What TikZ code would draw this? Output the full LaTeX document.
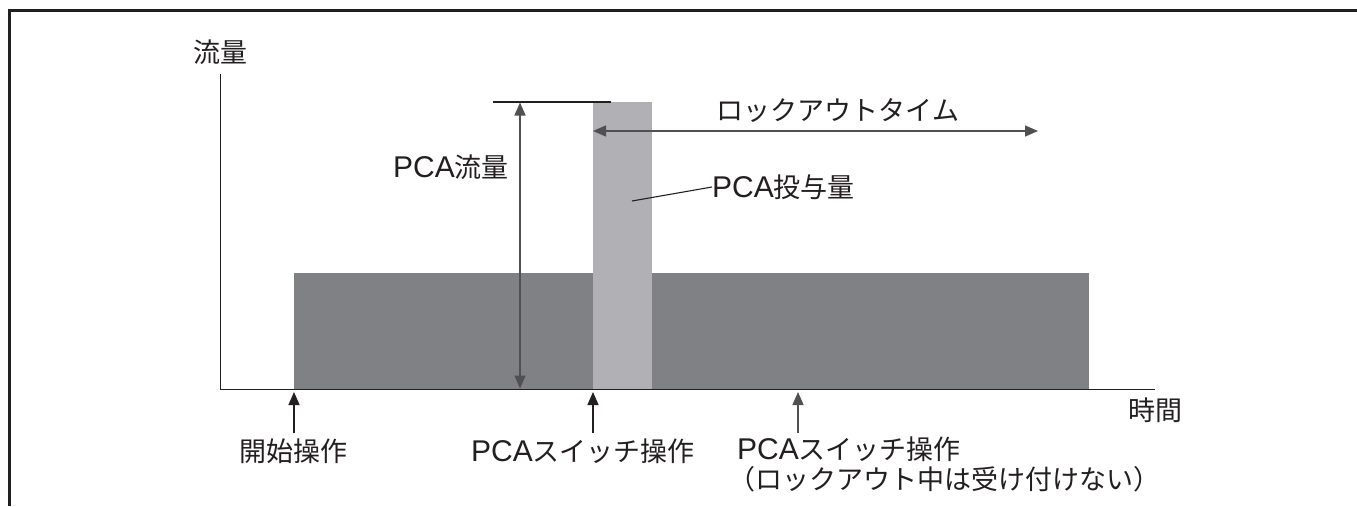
\documentclass[tikz,border=0pt]{standalone}
\usepackage{fontspec}
\setmainfont{Liberation Sans}
\newfontfamily\jpfont{Noto Sans CJK JP}
\usetikzlibrary{arrows.meta}
\definecolor{darkbar}{RGB}{128,129,133}
\definecolor{lightbar}{RGB}{177,177,181}
\definecolor{ink}{RGB}{35,31,32}
\definecolor{lineg}{RGB}{80,80,82}
\newcommand\J[1]{{\jpfont\fontsize{27}{31}\selectfont #1}}
\begin{document}
\begin{tikzpicture}[x=1pt,y=-1pt,
  every node/.style={font=\fontsize{30}{31}\selectfont, inner sep=0pt, text=ink},
  tipend/.style={-{Triangle[length=13pt,width=11pt]}},
  tipboth/.style={{Triangle[length=13pt,width=11pt]}-{Triangle[length=13pt,width=11pt]}},
  thinline/.style={line width=1.4pt, draw=lineg},
  axisline/.style={line width=1.8pt, draw=ink}]
\useasboundingbox (0,0) rectangle (1357,506);
\fill[white] (0,0) rectangle (1357,506);
% frame (top and left)
\draw[line width=3pt, draw=ink] (9.5,506) -- (9.5,10.5) -- (1357,10.5);
% bars
\fill[darkbar] (294,273) rectangle (1089,389);
\fill[lightbar] (593,102) rectangle (652,389);
% axes
\coordinate (ytop) at (220.5,74);
\coordinate (origin) at (220.5,389.5);
\coordinate (xend) at (1155,389.5);
\draw[axisline] (ytop) -- (origin) -- (xend);
\node (ylab) at (220.5,52) {\J{流量}};
\node (xlab) at (1155,410) {\J{時間}};
% PCA flow dimension
\coordinate (refl) at (493,102);
\coordinate (refr) at (611,102);
\draw[line width=1.3pt, draw=ink] (refl) -- (refr);
\coordinate (dimtop) at (520,102.5);
\coordinate (dimbot) at (520,388.5);
\draw[thinline, tipboth, fill=ink] (dimtop) -- (dimbot);
\node[anchor=east] (pcaflow) at (509,167) {PCA\J{流量}};
% lockout time
\coordinate (lockl) at (593,131);
\coordinate (lockr) at (1038,131);
\draw[thinline, tipboth] (lockl) -- (lockr);
\node (locklab) at (838,111) {\J{ロックアウトタイム}};
% bolus label
\node[anchor=west] (bolus) at (712,187) {PCA\J{投与量}};
\coordinate (bolpt) at (632,201);
\draw[line width=1.1pt, draw=ink] (bolpt) -- (bolus.west);
% event arrows
\coordinate (e1t) at (294,392); \coordinate (e1b) at (294,433);
\coordinate (e2t) at (593,392); \coordinate (e2b) at (593,433);
\coordinate (e3t) at (798,392); \coordinate (e3b) at (798,433);
\draw[line width=1.3pt, draw=ink, tipend] (e1b) -- (e1t);
\draw[line width=1.3pt, draw=ink, tipend] (e2b) -- (e2t);
\draw[line width=1.3pt, draw=lineg, tipend] (e3b) -- (e3t);
\node (ev1) at (293,451) {\J{開始操作}};
\node (ev2) at (583,451) {PCA\J{スイッチ操作}};
\node[anchor=north west, align=left] (ev3) at (737,437) {PCA\J{スイッチ操作}\\[-1pt]\hspace*{-9pt}\J{（ロックアウト中は受け付けない）}};
\end{tikzpicture}
\end{document}
